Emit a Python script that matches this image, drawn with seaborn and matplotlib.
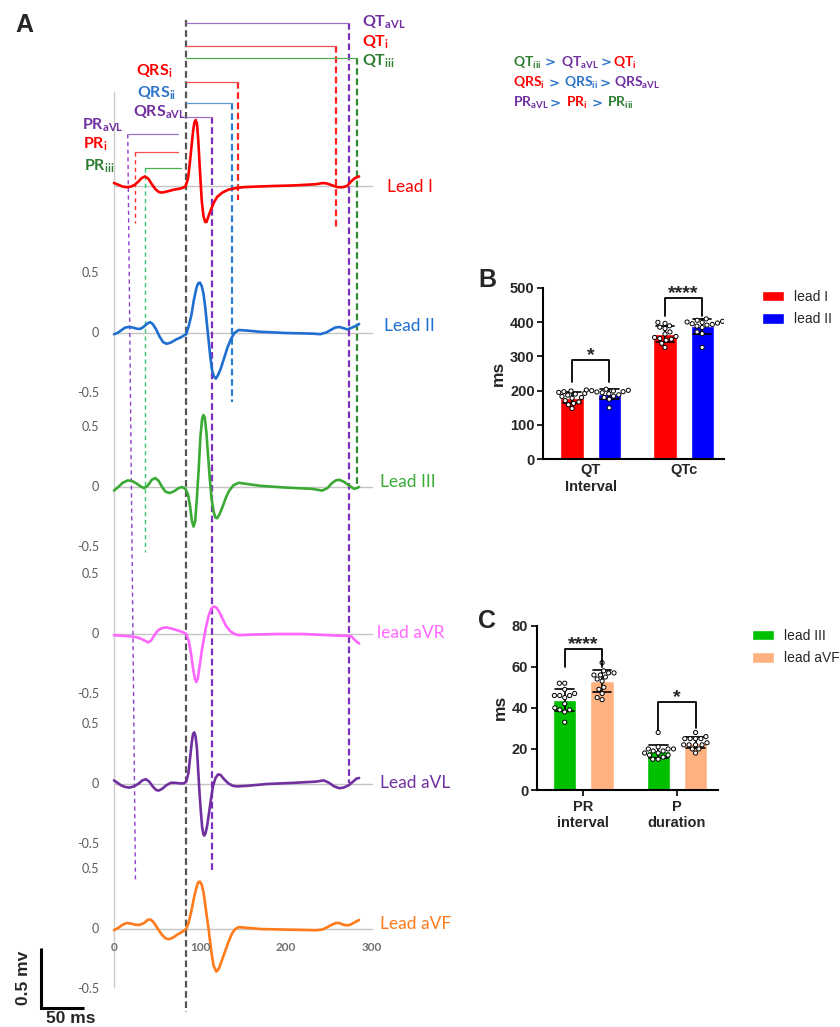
import matplotlib
matplotlib.use("Agg")
import matplotlib.pyplot as plt
import pandas as pd
import seaborn as sns

# ---------------- Panel A: averaged ECG beats, (time ms, amplitude mV) ----------------
lead_i = [(0, 0.025), (5, 0.01), (10, -0.005), (15, -0.01), (20, -0.005), (24, 0.01), (28, 0.035),
          (32, 0.065), (36, 0.08), (40, 0.06), (44, 0.015), (48, -0.025), (52, -0.05), (56, -0.055),
          (62, -0.045), (70, -0.03), (78, -0.02), (83, -0.005), (86, 0.06), (88, 0.18), (90, 0.32),
          (92, 0.46), (93.5, 0.53), (95, 0.55), (96.5, 0.52), (98, 0.38), (100, 0.12), (102, -0.12),
          (104, -0.25), (106, -0.3), (107.5, -0.3), (109, -0.27), (112, -0.21), (116, -0.14),
          (120, -0.09), (126, -0.055), (133, -0.03), (140, -0.02), (150, -0.01), (165, -0.005),
          (185, 0.0), (210, 0.005), (235, 0.015), (243, 0.025), (248, 0.02), (254, 0.005),
          (260, -0.01), (266, -0.01), (271, 0.0), (276, 0.04), (280, 0.065), (285, 0.08)]
lead_ii = [(0, -0.01), (4, 0.0), (8, 0.02), (13, 0.045), (17, 0.05), (22, 0.045), (27, 0.035),
           (31, 0.035), (35, 0.055), (39, 0.08), (42, 0.09), (45, 0.075), (49, 0.03), (53, -0.03),
           (57, -0.075), (61, -0.09), (66, -0.08), (72, -0.055), (78, -0.035), (84, -0.01),
           (87, 0.06), (90, 0.15), (93, 0.28), (96, 0.38), (98, 0.415), (100, 0.42), (102, 0.39),
           (104, 0.33), (106, 0.22), (108, 0.08), (110, -0.06), (112, -0.2), (114, -0.31),
           (116, -0.36), (118.5, -0.38), (121, -0.35), (124, -0.3), (128, -0.21), (132, -0.12),
           (136, -0.05), (140, 0.0), (145, 0.025), (155, 0.02), (170, 0.01), (200, 0.0),
           (230, -0.005), (240, -0.01), (247, 0.005), (252, 0.025), (257, 0.045), (262, 0.05),
           (267, 0.04), (271, 0.03), (275, 0.04), (280, 0.055), (285, 0.075)]
lead_iii = [(0, -0.03), (5, 0.0), (10, 0.035), (16, 0.055), (21, 0.05), (26, 0.03), (31, 0.005),
            (35, -0.01), (39, 0.01), (44, 0.06), (48, 0.075), (52, 0.05), (56, 0.0), (60, -0.04),
            (65, -0.05), (70, -0.035), (75, -0.01), (79, 0.0), (83, -0.015), (86, -0.06),
            (88.5, -0.16), (90.5, -0.28), (92.5, -0.33), (94.5, -0.28), (96.5, -0.08), (98.5, 0.15),
            (100.5, 0.42), (102.5, 0.57), (104, 0.6), (105.5, 0.58), (107.5, 0.45), (109.5, 0.25),
            (111.5, 0.06), (113.5, -0.1), (116, -0.21), (118, -0.255), (120, -0.26), (122.5, -0.23),
            (126, -0.17), (130, -0.09), (134, -0.03), (139, 0.015), (145, 0.035), (155, 0.025),
            (170, 0.01), (200, -0.005), (230, -0.015), (242, -0.03), (248, -0.01), (253, 0.03),
            (258, 0.055), (262, 0.06), (267, 0.045), (272, 0.02), (276, 0.0), (279, -0.015),
            (282, -0.01), (285, 0.0)]
lead_avr = [(0, -0.01), (10, -0.015), (20, -0.02), (28, -0.03), (33, -0.045), (37, -0.06),
            (40, -0.07), (43, -0.055), (47, -0.01), (51, 0.03), (56, 0.05), (61, 0.055), (67, 0.045),
            (74, 0.03), (80, 0.015), (84, 0.0), (87, -0.06), (89.5, -0.16), (92, -0.29), (94, -0.37),
            (95.7, -0.4), (97.5, -0.37), (99.5, -0.27), (102, -0.14), (104.5, -0.04), (107, 0.06),
            (110, 0.15), (113, 0.21), (116, 0.23), (119, 0.22), (122, 0.19), (126, 0.13), (130, 0.07),
            (135, 0.025), (140, 0.0), (145, -0.01), (160, -0.005), (190, 0.0), (220, 0.0),
            (250, -0.01), (265, -0.015), (272, -0.015), (276, -0.02), (280, -0.05), (285, -0.08)]
lead_avl = [(0, 0.03), (4, 0.01), (8, -0.01), (13, -0.025), (18, -0.03), (23, -0.02), (28, 0.0),
            (33, 0.03), (37, 0.04), (41, 0.02), (45, -0.02), (49, -0.05), (52, -0.055), (56, -0.04),
            (61, -0.01), (66, 0.01), (71, 0.01), (77, 0.005), (81, 0.005), (84, 0.02), (86.5, 0.09),
            (88.5, 0.22), (90.5, 0.35), (92, 0.42), (93.3, 0.43), (94.8, 0.4), (96.4, 0.3), (98, 0.1),
            (99.5, -0.08), (101, -0.23), (102.5, -0.36), (104, -0.42), (105, -0.43), (106.5, -0.41),
            (108.5, -0.34), (110.5, -0.24), (112.5, -0.14), (115, -0.02), (118, 0.05), (121, 0.08),
            (124, 0.075), (128, 0.04), (133, 0.005), (138, -0.015), (143, -0.02), (155, -0.015),
            (178, 0.0), (210, 0.01), (235, 0.02), (244, 0.03), (250, 0.01), (256, -0.02),
            (262, -0.035), (267, -0.03), (273, -0.01), (278, 0.02), (282, 0.045), (285, 0.05)]
lead_avf = [(0, -0.01), (5, 0.01), (10, 0.035), (15, 0.05), (20, 0.045), (25, 0.035), (30, 0.035),
            (35, 0.05), (39, 0.075), (42, 0.08), (45, 0.065), (48, 0.035), (52, -0.01), (56, -0.05),
            (60, -0.078), (64, -0.085), (69, -0.07), (74, -0.045), (79, -0.025), (84, 0.0),
            (87, 0.06), (90, 0.15), (93, 0.26), (96, 0.35), (98, 0.39), (100, 0.395), (102, 0.37),
            (104, 0.31), (106, 0.21), (108, 0.1), (110, 0.0), (112, -0.12), (114, -0.23),
            (116, -0.31), (119, -0.355), (122, -0.33), (125, -0.27), (129, -0.19), (133, -0.11),
            (137, -0.04), (141, 0.0), (145, 0.015), (155, 0.01), (170, 0.0), (200, -0.005),
            (235, -0.01), (242, -0.005), (248, 0.015), (253, 0.035), (258, 0.05), (262, 0.05),
            (267, 0.035), (272, 0.03), (276, 0.04), (281, 0.06), (285, 0.075)]

lead_names = ["Lead I", "Lead II", "Lead III", "lead aVR", "Lead aVL", "Lead aVF"]
lead_traces = [lead_i, lead_ii, lead_iii, lead_avr, lead_avl, lead_avf]
lead_colors = ["#ff0000", "#1f6fd0", "#3aaa35", "#ff66ff", "#7030a0", "#ff7a1a"]

# interval boundaries (ms)
qrs_onset = 84
pr_start = {"aVL": 16, "i": 24.5, "iii": 36}
qrs_end = {"i": 144, "ii": 137, "aVL": 114.5}
qt_end = {"i": 258.5, "aVL": 273.5, "iii": 282.5}
time_ticks = [0, 100, 200, 300]
amp_ticks = [0.5, 0, -0.5]

# ---------------- Panel B ----------------
b_groups = ["QT\nInterval", "QTc"]
b_leads = ["lead I", "lead II"]
qt_lead_i = [199, 195, 192, 197, 190, 187, 183, 178, 180, 171, 167, 163, 159, 148]
qt_lead_ii = [204, 201, 199, 197, 202, 200, 194, 196, 191, 188, 184, 180, 175, 150]
qtc_lead_i = [399, 396, 389, 385, 381, 371, 365, 352, 358, 355, 347, 350, 338, 326]
qtc_lead_ii = [409, 405, 402, 400, 397, 395, 399, 393, 391, 388, 384, 371, 366, 326]

# ---------------- Panel C ----------------
c_groups = ["PR\ninterval", "P\nduration"]
c_leads = ["lead III", "lead aVF"]
pr_lead_iii = [52, 52, 49, 47, 46, 46, 46, 45, 42, 40, 39, 39, 38, 33]
pr_lead_avf = [62, 58, 57, 57, 56, 56, 55, 54, 53, 50, 49, 47, 45, 44]
pdur_lead_iii = [28, 21, 20, 20, 20, 19, 19, 18, 18, 17, 17, 16, 15, 15]
pdur_lead_avf = [28, 26, 25, 25, 25, 25, 23, 22, 22, 22, 22, 20, 20, 18]

W, H = 840, 1027
X0, SX = 114, 0.86   # pixel of t=0, pixels per ms
Y0, SY = 186, 120    # pixel of lead I baseline, pixels per mV

RED, BLUE, PURPLE, DGREEN = "#ff0000", "#2f75c8", "#7030a0", "#2e7d32"


def X(px):
    return (px - X0) / SX


def Y(py):
    return (Y0 - py) / SY


def set_style():
    sns.set_style("white")
    plt.rcParams["font.family"] = ["Liberation Sans", "DejaVu Sans"]
    plt.rcParams["mathtext.fontset"] = "custom"
    plt.rcParams["mathtext.rm"] = "Lato"
    plt.rcParams["mathtext.bf"] = "Lato:bold"
    plt.rcParams["axes.unicode_minus"] = False


def vdash(ax, x, top, bottom, color, lw=1.6, dashes=(3, 1.6), x_bottom=None):
    ax.plot([x, x if x_bottom is None else x_bottom], [Y(top), Y(bottom)], color=color, lw=lw,
            dashes=dashes, zorder=1)


def hline(ax, x1, x2, py, color):
    ax.plot([x1, x2], [Y(py), Y(py)], color=color, lw=0.9, zorder=1)


def draw_panel_a(fig):
    ax = fig.add_axes([0, 0, 1, 1])
    baselines = [Y(p) for p in [186, 333, 487, 634, 784, 929]]

    rows = []
    for name, trace, base in zip(lead_names, lead_traces, baselines):
        for t, mv in trace:
            rows.append({"lead": name, "t": t, "y": mv + base})
    df = pd.DataFrame(rows)
    sns.lineplot(data=df, x="t", y="y", hue="lead", palette=dict(zip(lead_names, lead_colors)),
                 sort=False, estimator=None, legend=False, linewidth=1.9, ax=ax, zorder=2)

    # baselines and vertical axis
    for base in baselines:
        ax.plot([0, 300], [base, base], color="#c4c4c4", lw=1, zorder=0)
    ax.plot([0, 0], [Y(92), Y(987)], color="#cccccc", lw=1, zorder=0)

    # amplitude tick labels
    for base in baselines[1:]:
        for v in amp_ticks:
            ax.text(X(99), base + v, f"{v:g}", ha="right", va="center", fontsize=9,
                    color="#595959", family="Lato")
    for t in time_ticks:
        ax.text(t, Y(948), str(t), ha="center", va="center", fontsize=8.5, color="#707070",
                family="Lato", fontweight="bold")

    # lead labels
    label_pos = [(387, 192), (384, 331), (380, 487), (377, 638), (380, 788), (380, 929)]
    for name, col, (px, py) in zip(lead_names, lead_colors, label_pos):
        ax.text(X(px), Y(py), name, color=col, fontsize=12.5, family="Lato", va="baseline")

    # interval markers
    vdash(ax, qrs_onset, 20, 1012, "#555555")
    vdash(ax, qt_end["aVL"], 23.3, 783, "#7b2fbe")
    vdash(ax, qt_end["i"], 46, 230, "#ff2020")
    vdash(ax, qt_end["iii"], 58.3, 487, "#2e8b2e")
    vdash(ax, qrs_end["i"], 81.7, 200, "#ff2020")
    vdash(ax, qrs_end["ii"], 103.3, 402, "#2a7fd4")
    vdash(ax, qrs_end["aVL"], 116.7, 872, "#7b2fbe")
    thin = dict(lw=1.0, dashes=(3, 2.5))
    vdash(ax, pr_start["aVL"], 134.3, 882, "#9040d0", x_bottom=pr_start["aVL"] + 9, **thin)
    vdash(ax, pr_start["i"], 151.7, 223, "#ff3030", **thin)
    vdash(ax, pr_start["iii"], 168.3, 552, "#2ecc71", **thin)

    hline(ax, qrs_onset, qt_end["aVL"], 23.3, "#a070c8")
    hline(ax, qrs_onset, qt_end["i"], 46, "#f05050")
    hline(ax, qrs_onset, qt_end["iii"], 58.3, "#4caf50")
    hline(ax, qrs_onset, qrs_end["i"], 81.7, "#f05050")
    hline(ax, qrs_onset, qrs_end["ii"], 103.3, "#5b9bd5")
    hline(ax, qrs_onset, qrs_end["aVL"], 116.7, "#a070c8")
    hline(ax, pr_start["aVL"], X(178), 134.3, "#a070c8")
    hline(ax, pr_start["i"], X(178), 151.7, "#f05050")
    hline(ax, pr_start["iii"], X(181), 168.3, "#4caf50")

    labels = [(r"$\mathbf{QT_{aVL}}$", PURPLE, 362, 27), (r"$\mathbf{QT_{i}}$", RED, 362, 46.7),
              (r"$\mathbf{QT_{iii}}$", DGREEN, 362, 65.7), (r"$\mathbf{QRS_{i}}$", RED, 136, 76),
              (r"$\mathbf{QRS_{ii}}$", BLUE, 136.7, 97.7), (r"$\mathbf{QRS_{aVL}}$", PURPLE, 133.3, 116.7),
              (r"$\mathbf{PR_{aVL}}$", PURPLE, 81.7, 130), (r"$\mathbf{PR_{i}}$", RED, 83.3, 148.3),
              (r"$\mathbf{PR_{iii}}$", DGREEN, 84, 170.7)]
    for s, col, px, py in labels:
        ax.text(X(px), Y(py), s, color=col, fontsize=11.5, va="baseline", ha="left")

    # scale bar
    ax.plot([X(41), X(41), X(41) + 50], [Y(1008) + 0.5, Y(1008), Y(1008)], color="black", lw=2.2,
            solid_capstyle="butt", solid_joinstyle="miter")
    ax.text(X(23.5), Y(978), "0.5 mv", rotation=90, ha="center", va="center", fontsize=12.5,
            fontweight="bold")
    ax.text(X(71), Y(1019), "50 ms", ha="center", va="center", fontsize=12.5, fontweight="bold")

    ax.set_xlim(X(0), X(W))
    ax.set_ylim(Y(H), Y(0))
    ax.set_axis_off()
    return ax


def put_pieces(fig, pieces, x_px, y_px, size=10):
    r = fig.canvas.get_renderer()
    x = x_px
    for s, c, gap in pieces:
        x += gap
        fam = "DejaVu Sans" if s == ">" else "Lato"
        t = fig.text(x / W, 1 - y_px / H, s, color=c, fontsize=size if s != ">" else 9.5,
                     family=fam, fontweight="bold", va="baseline", ha="left")
        x = t.get_window_extent(r).x1


def bracket(ax, x1, x2, yl, yr, top, label):
    ax.plot([x1, x1, x2, x2], [yl, top, top, yr], color="black", lw=1.3, clip_on=False, zorder=5)
    ax.text((x1 + x2) / 2, top, label, ha="center", va="baseline", fontsize=14,
            fontweight="bold", clip_on=False)


def bar_panel(fig, rect, groups, leads, values, colors, ylim, yticks, xlim, legend_xy, xticks_len):
    ax = fig.add_axes(rect)
    rows = []
    for g, lead_vals in zip(groups, values):
        for lead, vals in zip(leads, lead_vals):
            for v in vals:
                rows.append({"group": g, "lead": lead, "ms": v})
    df = pd.DataFrame(rows)
    sns.barplot(data=df, x="group", y="ms", hue="lead", order=groups, hue_order=leads,
                palette=colors, saturation=1, errorbar="sd", capsize=0.4, width=0.8, gap=0.375,
                err_kws={"color": "black", "linewidth": 1.2}, ax=ax)
    sns.swarmplot(data=df, x="group", y="ms", hue="lead", order=groups, hue_order=leads,
                  dodge=True, palette=["white", "white"], edgecolor="black", linewidth=0.7,
                  size=3.0, legend=False, ax=ax, warn_thresh=1)
    sns.move_legend(ax, "upper left", bbox_to_anchor=legend_xy, bbox_transform=fig.transFigure,
                    frameon=False, title=None, fontsize=10, handlelength=1.6, handleheight=0.8,
                    handletextpad=0.7, labelspacing=0.6, borderaxespad=0, borderpad=0)
    ax.set_facecolor("none")
    ax.set_xlim(*xlim)
    ax.set_ylim(*ylim)
    ax.set_yticks(yticks)
    ax.set_xlabel("")
    ax.set_ylabel("ms", fontsize=12.5, fontweight="bold", labelpad=3)
    sns.despine(ax=ax)
    for sp in ["left", "bottom"]:
        ax.spines[sp].set_linewidth(1.5)
        ax.spines[sp].set_color("black")
    ax.tick_params(axis="y", width=1.4, length=4, labelsize=10.5, pad=2, left=True)
    ax.tick_params(axis="x", width=1.4, length=xticks_len, labelsize=10.5, pad=3, bottom=True)
    for lab in ax.get_xticklabels() + ax.get_yticklabels():
        lab.set_fontweight("bold")
    return ax


def run_and_plot():
    set_style()
    fig = plt.figure(figsize=(W / 100, H / 100), dpi=100)
    draw_panel_a(fig)

    put_pieces(fig, [(r"$\mathbf{QT_{iii}}$", DGREEN, 0), (">", BLUE, 3),
                     (r"$\mathbf{QT_{aVL}}$", PURPLE, 5), (">", BLUE, 2), (r"$\mathbf{QT_{i}}$", RED, 1)],
               513, 66.7)
    put_pieces(fig, [(r"$\mathbf{QRS_{i}}$", RED, 0), (">", BLUE, 4), (r"$\mathbf{QRS_{ii}}$", BLUE, 4),
                     (">", BLUE, 1), (r"$\mathbf{QRS_{aVL}}$", PURPLE, 4)], 513, 87.3)
    put_pieces(fig, [(r"$\mathbf{PR_{aVL}}$", PURPLE, 0), (">", BLUE, 1), (r"$\mathbf{PR_{i}}$", RED, 5),
                     (">", BLUE, 4), (r"$\mathbf{PR_{iii}}$", DGREEN, 4)], 513, 107.3)

    axb = bar_panel(fig, [543 / W, 1 - 459.3 / H, 181 / W, 171.6 / H], b_groups, b_leads,
                    [[qt_lead_i, qt_lead_ii], [qtc_lead_i, qtc_lead_ii]], ["#ff0000", "#0000ff"],
                    (0, 500), [0, 100, 200, 300, 400, 500], (-0.513, 1.435),
                    (762 / W, 1 - 290 / H), 0)
    bracket(axb, -0.2, 0.2, 226, 226, 289, "*")
    bracket(axb, 0.8, 1.2, 417, 417, 469, "****")

    axc = bar_panel(fig, [536.7 / W, 1 - 790 / H, 181.3 / W, 164.3 / H], c_groups, c_leads,
                    [[pr_lead_iii, pr_lead_avf], [pdur_lead_iii, pdur_lead_avf]],
                    ["#00c000", "#ffb27f"], (0, 80), [0, 20, 40, 60, 80], (-0.50, 1.44),
                    (752 / W, 1 - 629 / H), 4)
    bracket(axc, -0.2, 0.2, 60, 60, 68.5, "****")
    bracket(axc, 0.8, 1.2, 29, 30, 43, "*")

    for letter, px, py in [("A", 15, 32), ("B", 478, 287), ("C", 478, 628)]:
        fig.text(px / W, 1 - py / H, letter, fontsize=18, fontweight="bold", va="baseline")

    fig.savefig("out.png", dpi=100)


if __name__ == "__main__":
    run_and_plot()
